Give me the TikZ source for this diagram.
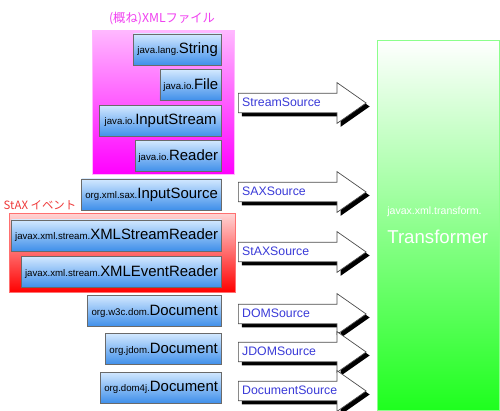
\documentclass[tikz,border=0pt]{standalone}
\usepackage{fontspec}
\setmainfont{Liberation Sans}
\newfontfamily\jpfont{Noto Sans CJK JP}
\usetikzlibrary{shapes.arrows,shadows,positioning}
\definecolor{jxBlueTop}{HTML}{D2E8FF}
\definecolor{jxBlueBot}{HTML}{3F8FEA}
\definecolor{jxFrame}{HTML}{6A6A6A}
\definecolor{jxMagenta}{HTML}{FF00FF}
\definecolor{jxMagentaTop}{HTML}{FFB8FF}
\definecolor{jxRed}{HTML}{FF0000}
\definecolor{jxRedTop}{HTML}{FFD4D4}
\definecolor{jxRedLine}{HTML}{FF7070}
\definecolor{jxGreen}{HTML}{1EFF1E}
\definecolor{jxGreenLine}{HTML}{8CFF8C}
\definecolor{jxLabel}{HTML}{3A3AD8}
\definecolor{jxPink}{HTML}{F040F0}
\definecolor{jxRose}{HTML}{EE3A3A}
\newcommand{\jcls}[2]{{\fontsize{5.5}{6}\selectfont #1}{\fontsize{8.5}{10}\selectfont #2}}
\tikzset{
  jbox/.style={draw=jxFrame, top color=jxBlueTop, bottom color=jxBlueBot, minimum height=0.62cm, inner sep=2pt, anchor=east},
  grpX/.style={draw=jxMagentaTop, top color=jxMagentaTop, bottom color=jxMagenta, anchor=north west, inner sep=0pt},
  grpS/.style={draw=jxRedLine, top color=jxRedTop, bottom color=jxRed, anchor=north west, inner sep=0pt},
  srcarr/.style={single arrow, single arrow tip angle=70, single arrow head extend=0.21cm, draw=black!70, fill=white,
    drop shadow={shadow xshift=2pt, shadow yshift=-2pt, fill=black, opacity=1},
    anchor=tail, text width=2.12cm, align=left, inner xsep=2pt, inner ysep=2.15pt, text height=5pt, text depth=1.5pt,
    font=\fontsize{7}{8}\selectfont, text=jxLabel},
  trbox/.style={draw=jxGreenLine, top color=white, bottom color=jxGreen, anchor=north west, minimum width=2.44cm,
    minimum height=7.4cm, text width=2.04cm, inner xsep=0pt, align=left, text=white},
}
\begin{document}
\begin{tikzpicture}[x=0.02cm, y=-0.02cm]
  \useasboundingbox (0,0) rectangle (500,411);
  % groups
  \node[grpX, minimum width=2.84cm, minimum height=2.88cm] (xmlgrp) at (92,30) {};
  \node[grpS, minimum width=4.52cm, minimum height=1.58cm] (staxgrp) at (9,213) {};
  \node[font=\jpfont\fontsize{7}{8}\selectfont, text=jxPink] (xmlcap) at (162,19) {(概ね)XMLファイル};
  \node[font=\jpfont\fontsize{6.5}{8}\selectfont, text=jxRose] (staxcap) at (40,205) {StAX イベント};
  % input classes
  \foreach \nm/\y/\w/\pre/\cls in {str/49.5/88/java.lang./String, file/85/61/java.io./File,
      istream/121/122/java.io./InputStream, reader/156/85/java.io./Reader,
      isrc/194.5/140/org.xml.sax./InputSource, xsr/235.5/204/javax.xml.stream./XMLStreamReader,
      xer/272/194/javax.xml.stream./XMLEventReader, w3c/311/134/org.w3c.dom./Document,
      jdomdoc/349/116/org.jdom./Document, dom4j/387.5/121/org.dom4j./Document}
    \node[jbox, minimum width=\w*0.02cm] (\nm) at (222,\y) {\jcls{\pre}{\cls}};
  % sources
  \foreach \nm/\y/\txt in {srcStream/103/StreamSource, srcSax/192/SAXSource, srcStax/252/StAXSource,
      srcDom/314/DOMSource, srcJdom/352/JDOMSource, srcDoc/391/DocumentSource}
    \node[srcarr] (\nm) at (238,\y) {\txt};
  % transformer
  \node[trbox] (tr) at (377,40) {{\fontsize{6}{7}\selectfont javax.xml.transform.}\\[4pt]{\fontsize{10.6}{12}\selectfont Transformer}};
\end{tikzpicture}
\end{document}
